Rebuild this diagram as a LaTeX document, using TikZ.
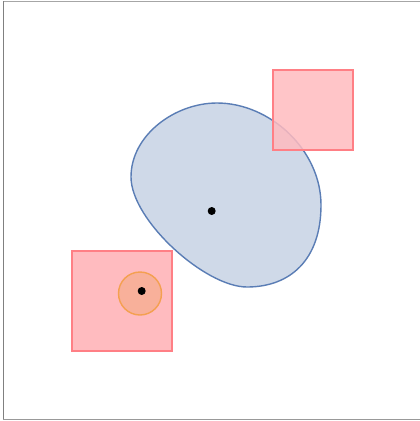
\documentclass[tikz,border=0pt]{standalone}
\begin{document}
\begin{tikzpicture}[x=1pt,y=-1pt,
  sqbox/.style={draw=sqedge,fill=sqfill,line width=1.6pt},
  blobstyle/.style={draw=blobedge,fill=blobfill,line width=1.4pt},
  ringstyle/.style={draw=ringedge,fill=ringfill,line width=1.4pt},
  dotstyle/.style={fill=black,draw=none}]
\definecolor{sqedge}{HTML}{FF7F85}
\definecolor{sqfill}{HTML}{FFBBBF}
\definecolor{blobedge}{HTML}{5A7DB5}
\definecolor{blobfill}{HTML}{CFD9E8}
\definecolor{ringedge}{HTML}{F4A050}
\definecolor{ringfill}{HTML}{F8B09A}
\useasboundingbox (0,0) rectangle (420,421);
\fill[white] (0,0) rectangle (420,421);
% frame
\draw[color=black!35,line width=1pt] (3,1.5) -- (420,1.5);
\draw[color=black!50,line width=1pt] (3,1) -- (3,420);
\draw[color=black!40,line width=1pt] (3,419.5) -- (420,419.5);
% lower-left square
\node[sqbox,minimum width=100pt,minimum height=100pt,inner sep=0pt] (sqA) at (122,301) {};
% blob
\draw[blobstyle] (131,177) .. controls (131,135) and (175,103) .. (217,103)
  .. controls (270,103) and (321,150) .. (321,205)
  .. controls (321,260) and (290,287) .. (247,287)
  .. controls (205,287) and (131,220) .. (131,177) -- cycle;
% upper-right square (semi-transparent over blob)
\node[sqbox,fill opacity=0.85,minimum width=80pt,minimum height=80pt,inner sep=0pt] (sqB) at (313,110) {};
% orange circle
\node[ringstyle,circle,minimum size=43pt,inner sep=0pt] (ring) at (140,293.5) {};
% dots
\node[dotstyle,circle,minimum size=8pt,inner sep=0pt] (dotA) at (141.7,291) {};
\node[dotstyle,circle,minimum size=8pt,inner sep=0pt] (dotB) at (211.7,211) {};
\end{tikzpicture}
\end{document}
